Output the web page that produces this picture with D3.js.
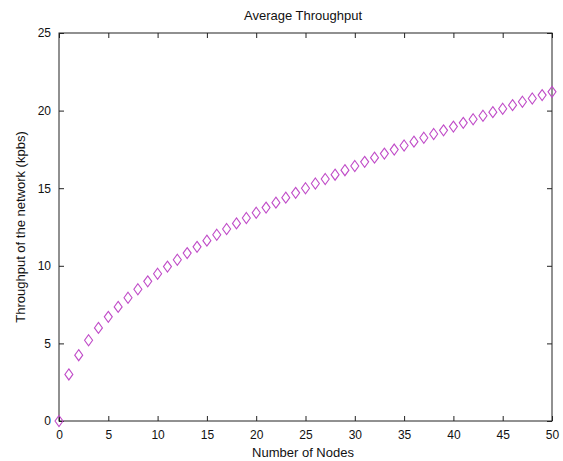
<!DOCTYPE html>
<html>
<head>
<meta charset="utf-8">
<script src="https://cdn.jsdelivr.net/npm/d3@7"></script>
<style>
  body { margin: 0; background: #fff; }
  svg { display: block; font-family: 'Liberation Sans', Arial, sans-serif; }
</style>
</head>
<body>
<svg id="chart" width="563" height="461"></svg>
<script>
// number of nodes
const nodes = [0,1,2,3,4,5,6,7,8,9,10,11,12,13,14,15,16,17,18,19,20,21,22,23,24,25,
  26,27,28,29,30,31,32,33,34,35,36,37,38,39,40,41,42,43,44,45,46,47,48,49,50]
// average throughput (kbps)
const throughput = [0,3.00,4.24,5.20,6.00,6.71,7.35,7.94,8.49,9.00,9.49,9.95,10.39,10.82,11.22,
  11.62,12.00,12.37,12.73,13.08,13.42,13.75,14.07,14.39,14.70,15.00,15.30,15.59,15.87,16.16,
  16.43,16.70,16.97,17.23,17.49,17.75,18.00,18.25,18.49,18.73,18.97,19.21,19.44,19.67,19.90,
  20.12,20.35,20.57,20.78,21.00,21.21]
const xTicks = [0,5,10,15,20,25,30,35,40,45,50]
const yTicks = [0,5,10,15,20,25]

const plotL = 59, plotR = 552, plotT = 33, plotB = 421

const svg = d3.select('#chart')
const x = d3.scaleLinear().domain([0, 50]).range([plotL, plotR])
const y = d3.scaleLinear().domain([0, 25]).range([plotB, plotT])

// box
svg.append('rect')
  .attr('x', plotL).attr('y', plotT)
  .attr('width', plotR - plotL).attr('height', plotB - plotT)
  .attr('fill', '#fff').attr('stroke', '#222').attr('stroke-width', 1)

const tickLen = 5
const axisStyle = g => {
  g.select('.domain').remove()
  g.selectAll('.tick line').attr('stroke', '#222')
  g.selectAll('.tick text').attr('fill', '#111').style('font-size', '12px')
}

svg.append('g')
  .attr('transform', `translate(0,${plotB})`)
  .call(d3.axisBottom(x).tickValues(xTicks).tickSize(-tickLen).tickPadding(tickLen + 4))
  .call(axisStyle)
svg.append('g')
  .attr('transform', `translate(0,${plotT})`)
  .call(d3.axisTop(x).tickValues(xTicks).tickSize(-tickLen).tickFormat(''))
  .call(axisStyle)
svg.append('g')
  .attr('transform', `translate(${plotL},0)`)
  .call(d3.axisLeft(y).tickValues(yTicks).tickSize(-tickLen).tickPadding(tickLen + 3))
  .call(axisStyle)
svg.append('g')
  .attr('transform', `translate(${plotR},0)`)
  .call(d3.axisRight(y).tickValues(yTicks).tickSize(-tickLen).tickFormat(''))
  .call(axisStyle)

// diamond markers
const diamond = 'M0,-5.5L4,0L0,5.5L-4,0Z'
svg.append('g')
  .selectAll('path')
  .data(nodes)
  .join('path')
  .attr('d', diamond)
  .attr('transform', (d, i) => `translate(${x(d)},${y(throughput[i])})`)
  .attr('fill', 'none')
  .attr('stroke', '#c04cc8')
  .attr('stroke-width', 1.1)

svg.append('text')
  .attr('x', 303).attr('y', 20)
  .attr('text-anchor', 'middle')
  .style('font-size', '13px').attr('fill', '#111')
  .text('Average Throughput')

svg.append('text')
  .attr('x', 303).attr('y', 457)
  .attr('text-anchor', 'middle')
  .style('font-size', '13px').attr('fill', '#111')
  .text('Number of Nodes')

svg.append('text')
  .attr('transform', `translate(25,227) rotate(-90)`)
  .attr('text-anchor', 'middle')
  .style('font-size', '13px').attr('fill', '#111')
  .text('Throughput of the network (kpbs)')
</script>
</body>
</html>
